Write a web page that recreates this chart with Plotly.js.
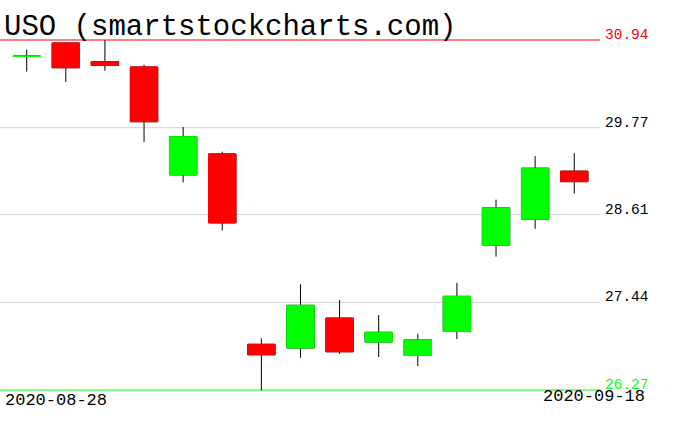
<!DOCTYPE html>
<html>
<head>
<meta charset="utf-8">
<script src="https://cdn.plot.ly/plotly-3.0.1.min.js"></script>
<style>
html,body{margin:0;padding:0;background:#fff;}
#chart{width:676px;height:431px;}
</style>
</head>
<body>
<div id="chart"></div>
<script>
// ---- data ----
var dates = ['2020-08-28','2020-08-31','2020-09-01','2020-09-02','2020-09-03','2020-09-04','2020-09-08','2020-09-09','2020-09-10','2020-09-11','2020-09-14','2020-09-15','2020-09-16','2020-09-17','2020-09-18'];
var openVals  = [30.72, 30.90, 30.65, 30.58, 29.14, 29.42, 26.88, 26.83, 27.23, 26.91, 26.73, 27.05, 28.20, 28.55, 29.19];
var highVals  = [30.81, 30.91, 30.94, 30.61, 29.78, 29.45, 26.96, 27.68, 27.47, 27.27, 27.02, 27.70, 28.81, 29.39, 29.43];
var lowVals   = [30.52, 30.38, 30.53, 29.58, 29.04, 28.40, 26.27, 26.70, 26.75, 26.71, 26.59, 26.95, 28.05, 28.42, 28.89];
var closeVals = [30.725, 30.57, 30.60, 29.85, 29.65, 28.50, 26.74, 27.40, 26.78, 27.04, 26.94, 27.52, 28.70, 29.23, 29.05];
var gridLevels = [29.77, 28.61, 27.44];
var maxLevel = 30.94;
var minLevel = 26.27;
var tickLabels = ['30.94', '29.77', '28.61', '27.44', '26.27'];
var tickValues = [30.94, 29.77, 28.61, 27.44, 26.27];
var firstDateLabel = '2020-08-28';
var lastDateLabel = '2020-09-18';
var titleText = 'USO (smartstockcharts.com)';

// body bounds for the coloured bodies
var bodyHigh = openVals.map(function(o, i){ return Math.max(o, closeVals[i]); });
var bodyLow  = openVals.map(function(o, i){ return Math.min(o, closeVals[i]); });

var RED = '#ff0000', GREEN = '#00ff00';

var wicks = {
  type: 'candlestick', x: dates,
  open: openVals, high: highVals, low: lowVals, close: closeVals,
  whiskerwidth: 0,
  increasing: {line: {color: '#000000', width: 1}, fillcolor: GREEN},
  decreasing: {line: {color: '#000000', width: 1}, fillcolor: RED},
  hoverinfo: 'skip', showlegend: false
};
var bodies = {
  type: 'candlestick', x: dates,
  open: openVals, high: bodyHigh, low: bodyLow, close: closeVals,
  whiskerwidth: 0,
  increasing: {line: {color: GREEN, width: 1}, fillcolor: GREEN},
  decreasing: {line: {color: RED, width: 1}, fillcolor: RED},
  hoverinfo: 'skip', showlegend: false
};

var plotRight = 600 / 676;

var shapes = gridLevels.map(function(v){
  return {type: 'line', xref: 'paper', yref: 'y', x0: 0, x1: plotRight, y0: v, y1: v,
          line: {color: '#d3d3d3', width: 1}, layer: 'below'};
});
shapes.push({type: 'line', xref: 'paper', yref: 'y', x0: 0, x1: plotRight, y0: maxLevel, y1: maxLevel,
             line: {color: RED, width: 1}, layer: 'below'});
shapes.push({type: 'line', xref: 'paper', yref: 'y', x0: 0, x1: plotRight, y0: minLevel, y1: minLevel,
             line: {color: GREEN, width: 1}, layer: 'below'});

var monoFont = 'Liberation Mono, DejaVu Sans Mono, monospace';
var annotations = tickValues.map(function(v, i){
  var col = '#000000';
  if (v === maxLevel) col = RED;
  if (v === minLevel) col = GREEN;
  return {xref: 'paper', yref: 'y', x: 603 / 676, y: v, xanchor: 'left', yanchor: 'bottom',
          yshift: -5, showarrow: false, text: tickLabels[i],
          font: {family: monoFont, size: 14.5, color: col}};
});
annotations.push({xref: 'paper', yref: 'paper', x: 3 / 676, y: 0, xanchor: 'left', yanchor: 'bottom',
                  yshift: 19, showarrow: false, text: firstDateLabel,
                  font: {family: monoFont, size: 17, color: '#000'}});
annotations.push({xref: 'paper', yref: 'paper', x: 647 / 676, y: 0, xanchor: 'right', yanchor: 'bottom',
                  yshift: 23, showarrow: false, text: lastDateLabel,
                  font: {family: monoFont, size: 17, color: '#000'}});

var layout = {
  width: 676, height: 431,
  margin: {l: 0, r: 0, t: 0, b: 0},
  paper_bgcolor: '#ffffff', plot_bgcolor: '#ffffff',
  showlegend: false,
  boxgap: 0.3, boxgroupgap: 0,
  title: {text: titleText, x: 4 / 676, xanchor: 'left', xref: 'paper',
          y: 1 - 15 / 431, yanchor: 'top', yref: 'container',
          font: {family: monoFont, size: 29, color: '#000'}},
  xaxis: {type: 'category', range: [-0.683, 16.602], showgrid: false, zeroline: false,
          showticklabels: false, ticks: '', showline: false, rangeslider: {visible: false},
          fixedrange: true},
  yaxis: {range: [25.723, 31.4737], showgrid: false, zeroline: false, showticklabels: false,
          ticks: '', showline: false, fixedrange: true},
  shapes: shapes,
  annotations: annotations
};

Plotly.newPlot('chart', [wicks, bodies], layout, {displayModeBar: false, staticPlot: true});
</script>
</body>
</html>
